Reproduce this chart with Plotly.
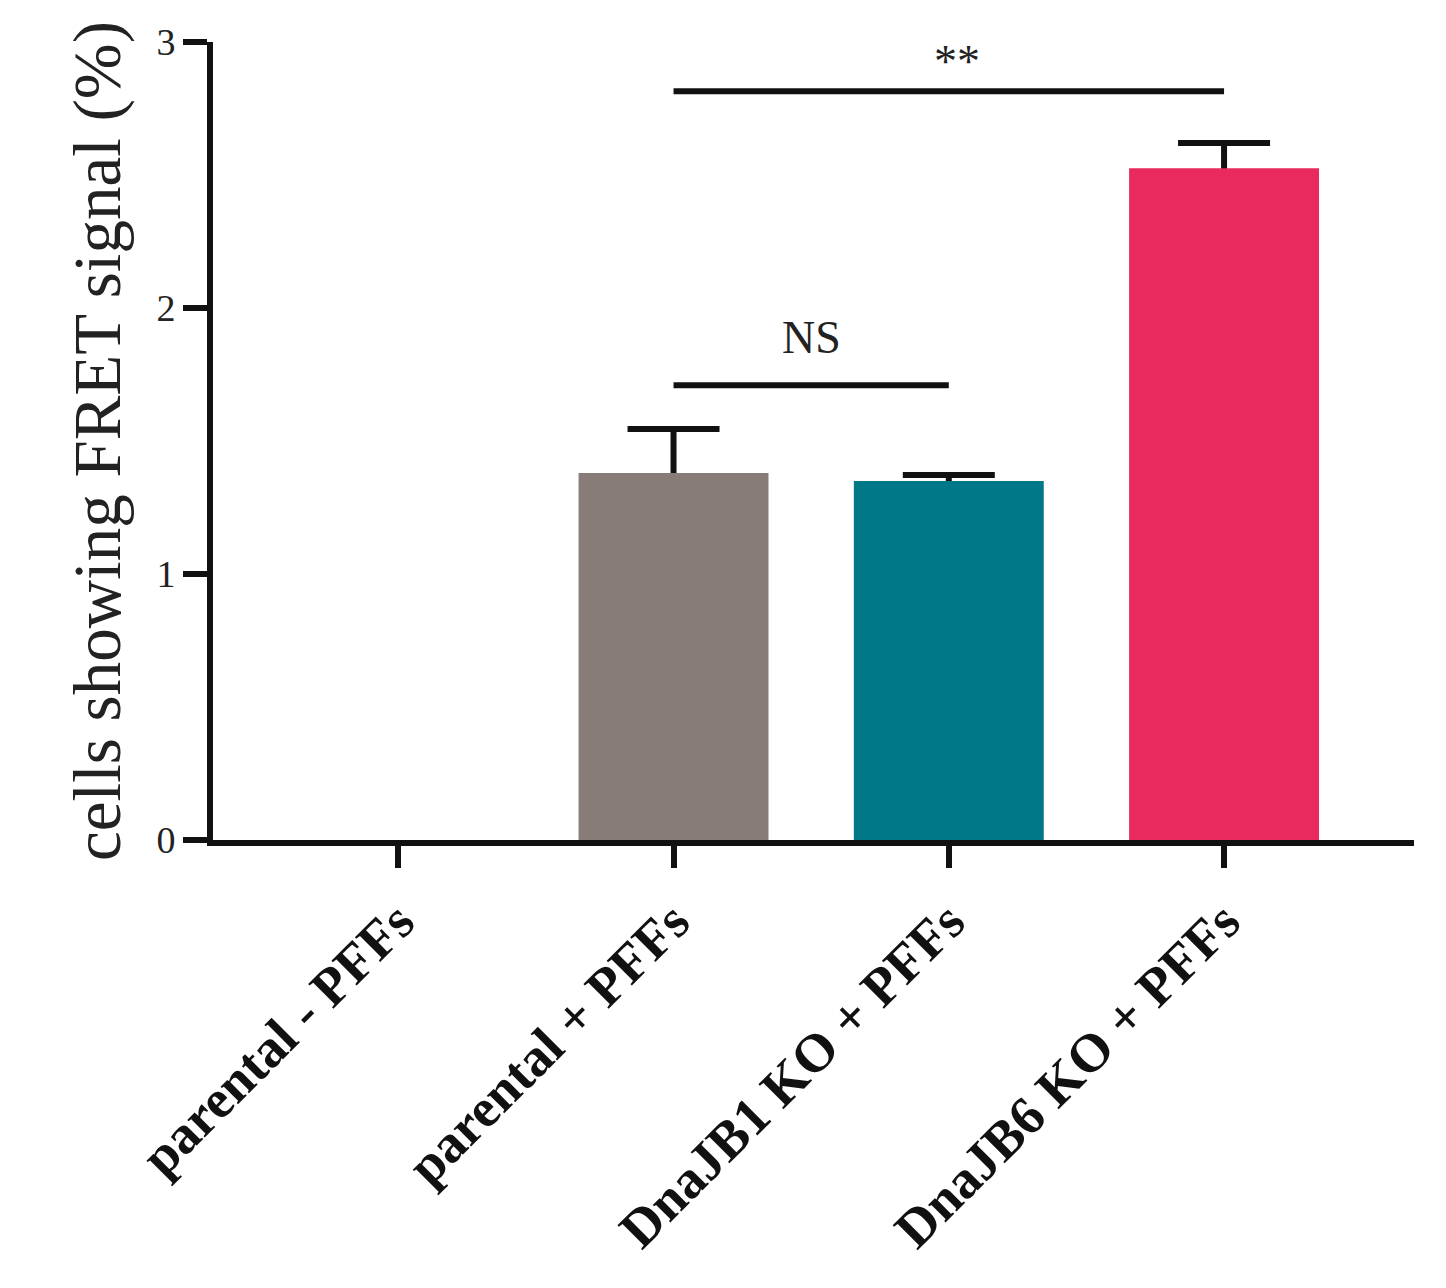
import plotly.graph_objects as go

categories = ["parental - PFFs", "parental + PFFs", "DnaJB1 KO + PFFs", "DnaJB6 KO + PFFs"]
values = [0.0, 1.38, 1.35, 2.525]
errors = [None, 0.165, 0.022, 0.095]
colors = ["#ffffff", "#877c77", "#007888", "#e82a5e"]
y_ticks = [0, 1, 2, 3]

sig_pairs = [(1, 2, 1.71, "NS"), (1, 3, 2.815, "**")]

x_idx = list(range(len(categories)))
err_idx = [i for i, e in enumerate(errors) if e is not None]

fig = go.Figure()
# error bars (symmetric) drawn first, lower half hidden by the bars drawn on top
fig.add_trace(go.Bar(
    x=[x_idx[i] for i in err_idx], y=[values[i] for i in err_idx], width=0.69,
    marker=dict(color="rgba(0,0,0,0)", line=dict(width=0)),
    error_y=dict(type="data", array=[errors[i] for i in err_idx], symmetric=True,
                 color="#111111", thickness=6, width=46, visible=True),
    showlegend=False, hoverinfo="skip",
))
fig.add_trace(go.Bar(
    x=x_idx, y=values, width=0.69,
    marker=dict(color=colors, line=dict(width=0)),
    showlegend=False,
))

for x0, x1, yy, label in sig_pairs:
    fig.add_shape(type="line", x0=x0, x1=x1, y0=yy, y1=yy, xref="x", yref="y",
                  line=dict(color="#111111", width=6))

fig.add_annotation(x=1.5, y=1.71, text="NS", showarrow=False, yanchor="bottom", yshift=20,
                   font=dict(family="Liberation Serif", size=46, color="#222222"))
fig.add_annotation(x=2.03, y=2.815, text="**", showarrow=False, yanchor="bottom", yshift=2,
                   font=dict(family="Liberation Serif", size=46, color="#222222"))

fig.update_layout(
    width=1446, height=1288,
    margin=dict(l=205, r=40, t=34, b=456),
    paper_bgcolor="white", plot_bgcolor="white",
    barmode="overlay",
)
fig.update_xaxes(
    range=[-0.673, 3.69], tickmode="array", tickvals=x_idx, ticktext=categories,
    tickangle=-45, ticks="outside", ticklen=22, tickwidth=6, tickcolor="#111111",
    showline=True, linewidth=6, linecolor="#111111", showgrid=False, zeroline=False,
    tickfont=dict(family="Liberation Serif", size=54, color="#111111", weight="bold"),
)
fig.update_yaxes(
    range=[0, 3], tickmode="array", tickvals=y_ticks, ticktext=[str(t) for t in y_ticks],
    ticks="outside", ticklen=24, tickwidth=6, tickcolor="#111111",
    showline=True, linewidth=6, linecolor="#111111", showgrid=False, zeroline=False,
    tickfont=dict(family="Liberation Serif", size=38, color="#222222"),
    title=dict(text="cells showing FRET signal (%)", standoff=16,
               font=dict(family="Liberation Serif", size=67, color="#222222")),
)

fig.write_html("out.html")
